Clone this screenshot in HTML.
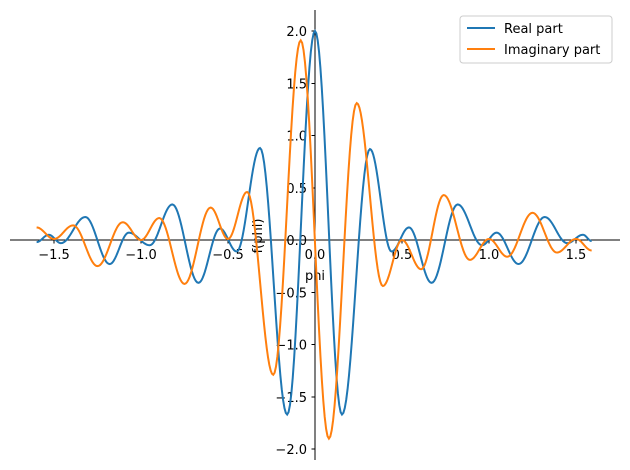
<!DOCTYPE html>
<html><head><meta charset="utf-8"><style>
body{margin:0;background:#fff;}
svg{display:block;font-family:"DejaVu Sans","Liberation Sans",sans-serif;}
</style></head><body>
<svg id="chart" width="630" height="470" viewBox="0 0 630 470" xmlns="http://www.w3.org/2000/svg">
<g id="axes"></g>
<g id="series"></g>
<g>
<rect x="460" y="16" width="152" height="47" rx="3" fill="#fff" fill-opacity="0.8" stroke="#ccc"/>
<line x1="467" y1="28" x2="495" y2="28" stroke="#1f77b4" stroke-width="2"/>
<text x="504" y="33" font-size="13">Real part</text>
<line x1="467" y1="49" x2="495" y2="49" stroke="#ff7f0e" stroke-width="2"/>
<text x="504" y="54" font-size="13">Imaginary part</text>
</g>
</svg>
<script>
const realX=[-1.60,-1.53,-1.46,-1.32,-1.18,-1.07,-0.95,-0.82,-0.67,-0.546,-0.45,-0.316,-0.16,0,0.155,0.316,0.44,0.54,0.67,0.82,0.96,1.044,1.17,1.32,1.45,1.54,1.59];
const realY=[-0.02,0.05,-0.03,0.22,-0.23,0.07,-0.05,0.34,-0.41,0.11,-0.11,0.88,-1.67,2.0,-1.67,0.87,-0.11,0.12,-0.41,0.34,-0.05,0.07,-0.23,0.22,-0.03,0.05,-0.01];
const imagX=[-1.60,-1.50,-1.39,-1.25,-1.105,-1.0,-0.895,-0.75,-0.60,-0.50,-0.39,-0.24,-0.082,0.08,0.24,0.39,0.50,0.61,0.74,0.89,1.0,1.105,1.25,1.39,1.50,1.59];
const imagY=[0.12,0.01,0.14,-0.25,0.17,0.0,0.21,-0.42,0.31,0.01,0.46,-1.29,1.91,-1.90,1.31,-0.44,0.0,-0.28,0.43,-0.19,0.01,-0.16,0.26,-0.12,0.01,-0.10];
const xTicks=[-1.5,-1.0,-0.5,0.0,0.5,1.0,1.5];
const yTicks=[-2.0,-1.5,-1.0,-0.5,0.0,0.5,1.0,1.5,2.0];
const NS="http://www.w3.org/2000/svg";
const sx=v=>315+v*174, sy=v=>240-v*104.5;
const ax=document.getElementById('axes'), sg=document.getElementById('series');
function mk(t,a,p){const e=document.createElementNS(NS,t);for(const k in a)e.setAttribute(k,a[k]);p.appendChild(e);return e;}
let e=mk('line',{x1:10,y1:240,x2:620,y2:240,stroke:'#000','stroke-width':1,'shape-rendering':'crispEdges'},ax);


e=mk('line',{x1:315,y1:10,x2:315,y2:460,stroke:'#000','stroke-width':1,'shape-rendering':'crispEdges'},ax);


xTicks.forEach(v=>{const x=sx(v);
 e=mk('line',{x1:x,y1:240,x2:x,y2:243.5,stroke:'#000','shape-rendering':'crispEdges'},ax);
 
 
 e=mk('text',{x:x,y:259,'font-size':13,'text-anchor':'middle'},ax);e.textContent=(v<0?'\u2212':'')+Math.abs(v).toFixed(1);
 
 });
yTicks.forEach(v=>{const y=sy(v);
 e=mk('line',{x1:311.5,y1:y,x2:315,y2:y,stroke:'#000','shape-rendering':'crispEdges'},ax);
 
 
 e=mk('text',{x:307,y:y+5,'font-size':13,'text-anchor':'end'},ax);e.textContent=(v<0?'\u2212':'')+Math.abs(v).toFixed(1);
 
 });
e=mk('text',{x:315,y:280,'font-size':13,'text-anchor':'middle'},ax);e.textContent='phi';


e=mk('text',{x:0,y:0,'font-size':13,'text-anchor':'middle',transform:'translate(262,236) rotate(-90)'},ax);e.textContent='f(phi)';


function path(X,Y){let d='';for(let i=0;i<X.length-1;i++){for(let k=0;k<=20;k++){if(i>0&&k==0)continue;const t=k/20,s=(1-Math.cos(Math.PI*t))/2;
 const x=X[i]+(X[i+1]-X[i])*t,y=Y[i]+(Y[i+1]-Y[i])*s;d+=(d?'L':'M')+sx(x).toFixed(2)+','+sy(y).toFixed(2);}}return d;}
e=mk('path',{d:path(realX,realY),fill:'none',stroke:'#1f77b4','stroke-width':2},sg);


e=mk('path',{d:path(imagX,imagY),fill:'none',stroke:'#ff7f0e','stroke-width':2},sg);


</script>
</body></html>
